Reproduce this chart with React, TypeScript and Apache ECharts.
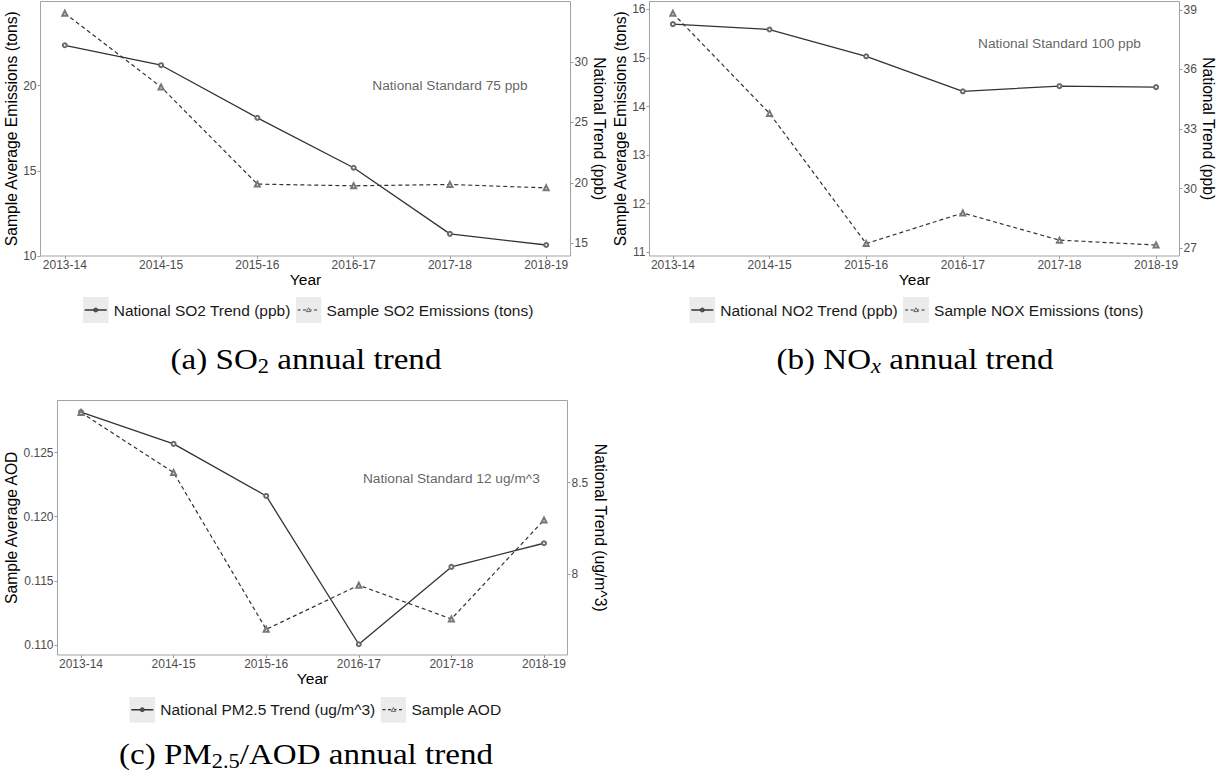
import { useEffect, useRef } from 'react';
import * as echarts from 'echarts';

// ---------- data ----------
const years = ['2013-14', '2014-15', '2015-16', '2016-17', '2017-18', '2018-19'];

const so2National = [31.38, 29.73, 25.38, 21.25, 15.78, 14.86];
const so2Sample = [24.25, 19.92, 14.22, 14.12, 14.2, 14.0];
const no2National = [38.28, 38.01, 36.66, 34.9, 35.16, 35.11];
const noxSample = [15.92, 13.86, 11.18, 11.81, 11.25, 11.15];
const pm25National = [8.884, 8.711, 8.427, 7.618, 8.04, 8.169];
const aodSample = [0.12812, 0.12344, 0.11122, 0.11466, 0.11203, 0.11974];

const so2LeftTicks = [10, 15, 20];
const so2RightTicks = [15, 20, 25, 30];
const noxLeftTicks = [11, 12, 13, 14, 15, 16];
const no2RightTicks = [27, 30, 33, 36, 39];
const aodLeftTicks = [0.11, 0.115, 0.12, 0.125];
const pmRightTicks = [8, 8.5];

const so2LeftRange = [10, 24.94];
const so2RightRange = [13.95, 35.0];
const noxLeftRange = [10.924, 16.164];
const no2RightRange = [26.61, 39.42];
const aodLeftRange = [0.10922, 0.12906];
const pmRightRange = [7.5595, 8.9476];

const so2Note = { text: 'National Standard 75 ppb', at: '2017-18', value: 20 };
const noxNote = { text: 'National Standard 100 ppb', at: '2017-18', value: 15.3 };
const aodNote = { text: 'National Standard 12 ug/m^3', at: '2017-18', value: 0.123 };

// ---------- styles ----------
const FONT = "'Liberation Sans', Arial, sans-serif";
const SERIF = "'Liberation Serif', 'Times New Roman', serif";
const LINE = '#333333';
const BORDER = '#a3a3a3';
const TICK = '#9a9a9a';
const LABEL = '#4d4d4d';

const keyIcon = (dashed: boolean) => {
  const inner = dashed
    ? "<line x1='2' y1='13' x2='24' y2='13' stroke='#333' stroke-width='1.2' stroke-dasharray='3,2.5'/><polygon points='13,10.8 15.2,14.6 10.8,14.6' fill='#ebebeb' stroke='#555' stroke-width='0.9'/>"
    : "<line x1='2' y1='13' x2='24' y2='13' stroke='#333' stroke-width='1.4'/><circle cx='13' cy='13' r='2' fill='#555' stroke='#333' stroke-width='0.8'/>";
  const svg = `<svg xmlns='http://www.w3.org/2000/svg' width='26' height='26' viewBox='0 0 26 26'><rect width='26' height='26' fill='#ebebeb'/>${inner}</svg>`;
  return 'image://data:image/svg+xml;charset=utf-8,' + encodeURIComponent(svg);
};

type Panel = {
  box: number[];
  pad: number;
  leftRange: number[];
  rightRange: number[];
  leftTicks: number[];
  rightTicks: number[];
  leftName: string;
  rightName: string;
  leftGap: number;
  rightGap: number;
  xGap: number;
  national: number[];
  sample: number[];
  nationalName: string;
  sampleName: string;
  note: { text: string; at: string; value: number };
  legendPos: number[];
  caption: string;
  captionPos: number[];
  leftFmt?: (v: number) => string;
};

const panels: Panel[] = [
  {
    box: [40.5, 1.5, 530, 254.5],
    pad: 24.3,
    leftRange: so2LeftRange,
    rightRange: so2RightRange,
    leftTicks: so2LeftTicks,
    rightTicks: so2RightTicks,
    leftName: 'Sample Average Emissions (tons)',
    rightName: 'National Trend (ppb)',
    leftGap: 17,
    rightGap: 17,
    xGap: 15,
    national: so2National,
    sample: so2Sample,
    nationalName: 'National SO2 Trend (ppb)',
    sampleName: 'Sample SO2 Emissions (tons)',
    note: so2Note,
    legendPos: [82.7, 297],
    caption: '(a) SO{s|2} annual trend',
    captionPos: [306, 359],
  },
  {
    box: [649.5, 1.5, 530, 254.5],
    pad: 23.4,
    leftRange: noxLeftRange,
    rightRange: no2RightRange,
    leftTicks: noxLeftTicks,
    rightTicks: no2RightTicks,
    leftName: 'Sample Average Emissions (tons)',
    rightName: 'National Trend (ppb)',
    leftGap: 15.5,
    rightGap: 15,
    xGap: 15,
    national: no2National,
    sample: noxSample,
    nationalName: 'National NO2 Trend (ppb)',
    sampleName: 'Sample NOX Emissions (tons)',
    note: noxNote,
    legendPos: [689.3, 297],
    caption: '(b) NO{i|x} annual trend',
    captionPos: [915, 359],
  },
  {
    box: [57.5, 400.5, 510, 254.5],
    pad: 23.5,
    leftRange: aodLeftRange,
    rightRange: pmRightRange,
    leftTicks: aodLeftTicks,
    rightTicks: pmRightTicks,
    leftName: 'Sample Average AOD',
    rightName: 'National Trend (ug/m^3)',
    leftGap: 34.5,
    rightGap: 18,
    xGap: 15.5,
    national: pm25National,
    sample: aodSample,
    nationalName: 'National PM2.5 Trend (ug/m^3)',
    sampleName: 'Sample AOD',
    note: aodNote,
    legendPos: [129.3, 696.7],
    caption: '(c) PM{s|2.5}/AOD annual trend',
    captionPos: [306, 754],
    leftFmt: (v: number) => v.toFixed(3),
  },
];

const axisNameStyle = { fontFamily: FONT, fontSize: 15.7, color: '#000' };
const tickLabelStyle = { fontFamily: FONT, fontSize: 12, color: LABEL };

function buildOption() {
  const grid: any[] = [];
  const xAxis: any[] = [];
  const yAxis: any[] = [];
  const series: any[] = [];
  const legend: any[] = [];
  const graphic: any[] = [];

  panels.forEach((p, i) => {
    const [bl, bt, bw, bh] = p.box;
    grid.push({ left: bl + p.pad, top: bt, width: bw - 2 * p.pad, height: bh, containLabel: false });
    xAxis.push({
      type: 'category',
      gridIndex: i,
      data: years,
      boundaryGap: false,
      name: 'Year',
      nameLocation: 'middle',
      nameGap: p.xGap,
      nameTextStyle: { ...axisNameStyle, fontSize: 15.5 },
      axisLine: { show: false },
      axisTick: { show: true, length: 3, lineStyle: { color: TICK } },
      axisLabel: { ...tickLabelStyle, interval: 0, margin: 3 },
      splitLine: { show: false },
    });
    yAxis.push({
      type: 'value',
      gridIndex: i,
      position: 'left',
      offset: p.pad,
      min: p.leftRange[0],
      max: p.leftRange[1],
      name: p.leftName,
      nameLocation: 'middle',
      nameRotate: 90,
      nameGap: p.leftGap,
      nameTextStyle: axisNameStyle,
      axisLine: { show: false },
      axisTick: { show: true, length: 3, lineStyle: { color: TICK }, customValues: p.leftTicks },
      axisLabel: {
        ...tickLabelStyle,
        margin: 4,
        customValues: p.leftTicks,
        formatter: p.leftFmt ? p.leftFmt : (v: number) => String(v),
      },
      splitLine: { show: false },
    });
    yAxis.push({
      type: 'value',
      gridIndex: i,
      position: 'right',
      offset: p.pad,
      min: p.rightRange[0],
      max: p.rightRange[1],
      name: p.rightName,
      nameLocation: 'middle',
      nameRotate: -90,
      nameGap: p.rightGap,
      nameTextStyle: axisNameStyle,
      axisLine: { show: false },
      axisTick: { show: true, length: 3, lineStyle: { color: TICK }, customValues: p.rightTicks },
      axisLabel: { ...tickLabelStyle, margin: 4, customValues: p.rightTicks, formatter: (v: number) => String(v) },
      splitLine: { show: false },
    });

    series.push({
      name: p.nationalName,
      type: 'line',
      xAxisIndex: i,
      yAxisIndex: 2 * i + 1,
      data: p.national,
      symbol: 'emptyCircle',
      symbolSize: 4,
      lineStyle: { color: LINE, width: 1.3 },
      itemStyle: { color: '#6a6a6a', borderWidth: 0.8 },
      z: 3,
    });
    series.push({
      name: p.sampleName,
      type: 'line',
      xAxisIndex: i,
      yAxisIndex: 2 * i,
      data: p.sample,
      symbol: 'emptyTriangle',
      symbolSize: 5,
      lineStyle: { color: LINE, width: 1.2, type: [4, 3] },
      itemStyle: { color: '#777', borderWidth: 0.8 },
      z: 3,
    });
    series.push({
      name: 'note' + i,
      type: 'scatter',
      xAxisIndex: i,
      yAxisIndex: 2 * i,
      data: [[p.note.at, p.note.value]],
      symbolSize: 0,
      silent: true,
      label: {
        show: true,
        position: 'inside',
        formatter: p.note.text,
        fontFamily: FONT,
        fontSize: 13.7,
        color: '#3a3a3a',
      },
    });

    legend.push({
      left: p.legendPos[0],
      top: p.legendPos[1],
      orient: 'horizontal',
      padding: 0,
      itemGap: 5,
      itemWidth: 26,
      itemHeight: 26,
      selectedMode: false,
      data: [
        { name: p.nationalName, icon: keyIcon(false) },
        { name: p.sampleName, icon: keyIcon(true) },
      ],
      textStyle: { fontFamily: FONT, fontSize: 15.5, color: '#1a1a1a' },
    });

    graphic.push({
      type: 'rect',
      shape: { x: bl, y: bt, width: bw, height: bh },
      style: { fill: 'none', stroke: BORDER, lineWidth: 1 },
      silent: true,
      z: 1,
    });

    graphic.push({
      type: 'text',
      x: p.captionPos[0],
      y: p.captionPos[1],
      scaleX: 1.12,
      silent: true,
      style: {
        text: p.caption,
        fontFamily: SERIF,
        fontSize: 29.5,
        lineHeight: 34,
        fill: '#000',
        align: 'center',
        verticalAlign: 'middle',
        textAlign: 'center',
        textVerticalAlign: 'middle',
        rich: {
          s: { fontFamily: SERIF, fontSize: 20, lineHeight: 20, verticalAlign: 'bottom', fill: '#000', color: '#000' },
          i: { fontFamily: SERIF, fontSize: 20, fontStyle: 'italic', lineHeight: 20, verticalAlign: 'bottom', fill: '#000', color: '#000' },
        },
      },
    });
  });

  return {
    animation: false,
    backgroundColor: '#ffffff',
    textStyle: { fontFamily: FONT },
    grid,
    xAxis,
    yAxis,
    series,
    legend,
    graphic,
  };
}

export default function App() {
  const ref = useRef<HTMLDivElement>(null);
  useEffect(() => {
    if (!ref.current) return;
    const chart = echarts.init(ref.current, undefined, { renderer: 'svg' });
    chart.setOption(buildOption() as any);
    return () => chart.dispose();
  }, []);
  return (
    <div
      ref={ref}
      style={{ position: 'absolute', left: 0, top: 0, width: 1224, height: 781, background: '#fff' }}
    />
  );
}
